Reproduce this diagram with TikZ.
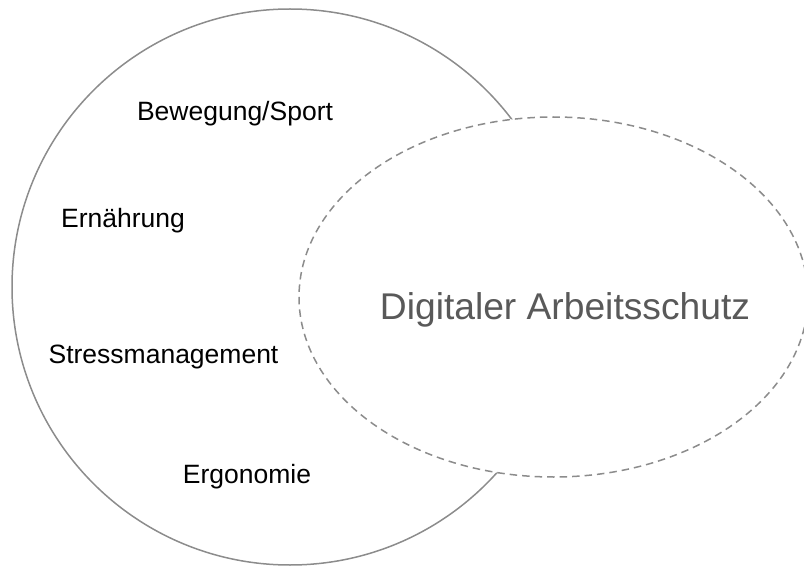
\documentclass[tikz,border=0pt]{standalone}
\usepackage{fontspec}
\setmainfont{Liberation Sans}
\usepackage{tikz}
\usetikzlibrary{shapes.geometric}
\usetikzlibrary{positioning}
\definecolor{rimgray}{HTML}{8C8C8C}
\definecolor{textgray}{HTML}{595959}
\tikzset{font={\fontsize{26.5}{32}\selectfont}}
\tikzset{
	topic/.style={anchor=base, text=black},
	rim/.style={draw=rimgray, line width=1.5pt},
}

\begin{document}
\begin{tikzpicture}[x=1pt, y=-1pt]

	\useasboundingbox (0,0) rectangle (804,567);
	\clip (0,0) rectangle (804,567);

	% health circle, left
	\node (health) [circle, rim, minimum size=556pt, inner sep=0pt] at (290,287) {};

	% digital circle on top, dashed
	\node (digital) [ellipse, rim, dash pattern=on 7.5pt off 5pt, fill=white, minimum width=509pt, minimum height=360pt, inner sep=0pt] at (553.5,297) {};

	\node (digital_text) [anchor=base, text=textgray, font={\fontsize{37.2}{44}\selectfont}] at (565,319) {Digitaler Arbeitsschutz};

	\node (sport) [topic] at (235,121) {Bewegung/Sport};

	\node (food) [topic] at (123,228) {Ernährung};

	\node (stress) [topic] at (163.5,363) {Stressmanagement};

	\node (ergo) [topic] at (247,483) {Ergonomie};

\end{tikzpicture}
\end{document}
